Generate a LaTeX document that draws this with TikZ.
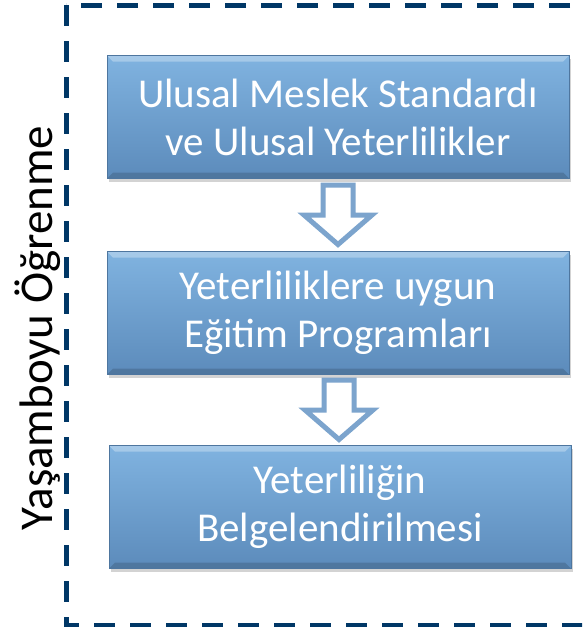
\documentclass[tikz,border=0pt]{standalone}
\usepackage{fontspec}
\setmainfont{Carlito}
\usetikzlibrary{calc,shadows}
\definecolor{navy}{RGB}{0,55,102}
\definecolor{boxtop}{RGB}{128,179,224}
\definecolor{boxbottom}{RGB}{92,139,187}
\definecolor{arrowblue}{RGB}{124,164,205}
\tikzset{
  stage/.style = {
    rectangle, minimum width=462pt, minimum height=123pt, inner sep=0pt,
    top color=boxtop, bottom color=boxbottom,
    draw=boxbottom!85!black, line width=0.6pt,
    drop shadow={shadow xshift=2pt, shadow yshift=-3pt, opacity=0.35},
    path picture={
      \fill[white,opacity=0.3] (path picture bounding box.north west)
        -- (path picture bounding box.north east)
        -- ([xshift=-6pt,yshift=-6pt]path picture bounding box.north east)
        -- ([xshift=6pt,yshift=-6pt]path picture bounding box.north west) -- cycle;
      \fill[black,opacity=0.15] (path picture bounding box.south west)
        -- (path picture bounding box.south east)
        -- ([xshift=-6pt,yshift=6pt]path picture bounding box.south east)
        -- ([xshift=6pt,yshift=6pt]path picture bounding box.south west) -- cycle;
    },
    text=white, align=center,
    font=\fontsize{41}{48}\selectfont
  },
  hollow/.style = {draw=arrowblue, fill=white, line width=5pt, line join=miter},
  frame/.style = {navy, line width=5pt, dash pattern=on 21pt off 15pt}
}

\begin{document}
\begin{tikzpicture}[x=1pt,y=-1pt]
  \clip (0,0) rectangle (582,627);
  % dashed frame, right side runs off the page
  \draw[frame] (66,5) -- (66,625) -- (620,625);
  \draw[frame,dash phase=22pt] (620,5) -- (66,5);
  % stages
  \node[stage] (b1) at (338,117) {Ulusal Meslek Standardı\\ve Ulusal Yeterlilikler};
  \node[stage] (b2) at (338,313) {Yeterliliklere uygun\\Eğitim Programları};
  \node[stage] (b3) at (340,507) {Yeterliliğin\\Belgelendirilmesi};
  % hollow arrows
  \foreach \a/\b in {b1/b2,b2/b3}{
    \coordinate (m) at ($(\a.south)!0.5!(\b.north)$);
    \draw[hollow] ($(m)+(-15,-30)$) -- ($(m)+(15,-30)$) -- ($(m)+(15,0)$)
      -- ($(m)+(34,0)$) -- ($(m)+(0,29.5)$) -- ($(m)+(-34,0)$)
      -- ($(m)+(-15,0)$) -- cycle;
  }
  % side label
  \node[rotate=90, font=\fontsize{47}{56}\selectfont] (side) at (38,328) {Yaşamboyu Öğrenme};
\end{tikzpicture}
\end{document}
